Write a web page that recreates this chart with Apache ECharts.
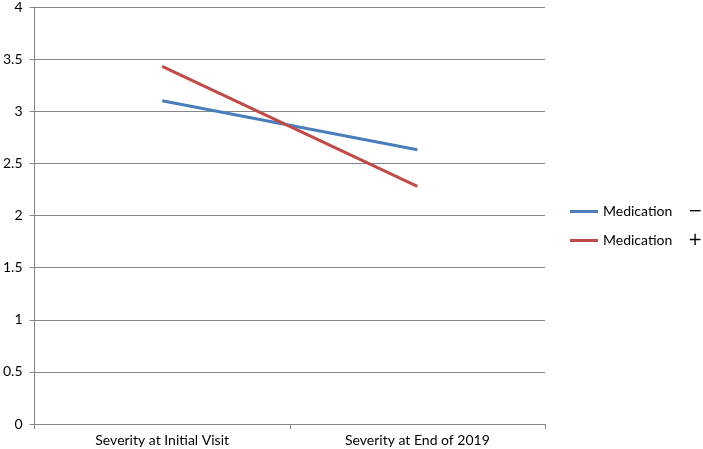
<!DOCTYPE html>
<html><head><meta charset="utf-8">
<script src="https://cdn.jsdelivr.net/npm/echarts@6/dist/echarts.min.js"></script>
<style>html,body{margin:0;padding:0;background:#fff}#c{width:703px;height:449px}</style>
</head><body><div id="c"></div>
<script>
const categories = ["Severity at Initial Visit", "Severity at End of 2019"];
const medMinus = [3.10, 2.63];
const medPlus = [3.43, 2.28];
const yTicks = [0, 0.5, 1, 1.5, 2, 2.5, 3, 3.5, 4];

const chart = echarts.init(document.getElementById('c'));
const font = 'Lato, "Open Sans", sans-serif';
chart.setOption({
  animation: false,
  grid: {left: 34, top: 5, right: 158, bottom: 25, containLabel: false},
  xAxis: {
    type: 'category', data: categories, boundaryGap: true,
    axisLine: {lineStyle: {color: '#868686', width: 1}},
    axisTick: {show: true, length: 5, alignWithLabel: false, lineStyle: {color: '#868686'}},
    axisLabel: {color: '#000', fontFamily: font, fontSize: 14, margin: 9}
  },
  yAxis: {
    type: 'value', min: 0, max: 4, interval: 0.5,
    axisLine: {show: true, lineStyle: {color: '#868686', width: 1}},
    axisTick: {show: true, length: 5, lineStyle: {color: '#868686'}},
    splitLine: {lineStyle: {color: '#868686', width: 1}},
    axisLabel: {color: '#000', fontFamily: font, fontSize: 14, margin: 12,
      formatter: v => yTicks.includes(v) ? String(v) : ''}
  },
  legend: {
    orient: 'vertical', left: 565, top: 198, itemGap: 12,
    itemWidth: 28, itemHeight: 3, icon: 'rect',
    textStyle: {fontFamily: font, fontSize: 14, color: '#000',
      rich: {n: {fontFamily: font, fontSize: 14, color: '#000', width: 85},
             s: {fontFamily: 'DejaVu Sans', fontSize: 17, color: '#000'}}},
    formatter: name => {
      const parts = name.split('|');
      return '{n|' + parts[0] + '}{s|' + parts[1] + '}';
    },
    data: ['Medication|−', 'Medication|+']
  },
  series: [
    {name: 'Medication|−', type: 'line', data: medMinus, symbol: 'none',
     lineStyle: {color: '#4a7ebb', width: 3}, itemStyle: {color: '#4a7ebb'}},
    {name: 'Medication|+', type: 'line', data: medPlus, symbol: 'none',
     lineStyle: {color: '#be4b48', width: 3}, itemStyle: {color: '#be4b48'}}
  ]
});
</script></body></html>
